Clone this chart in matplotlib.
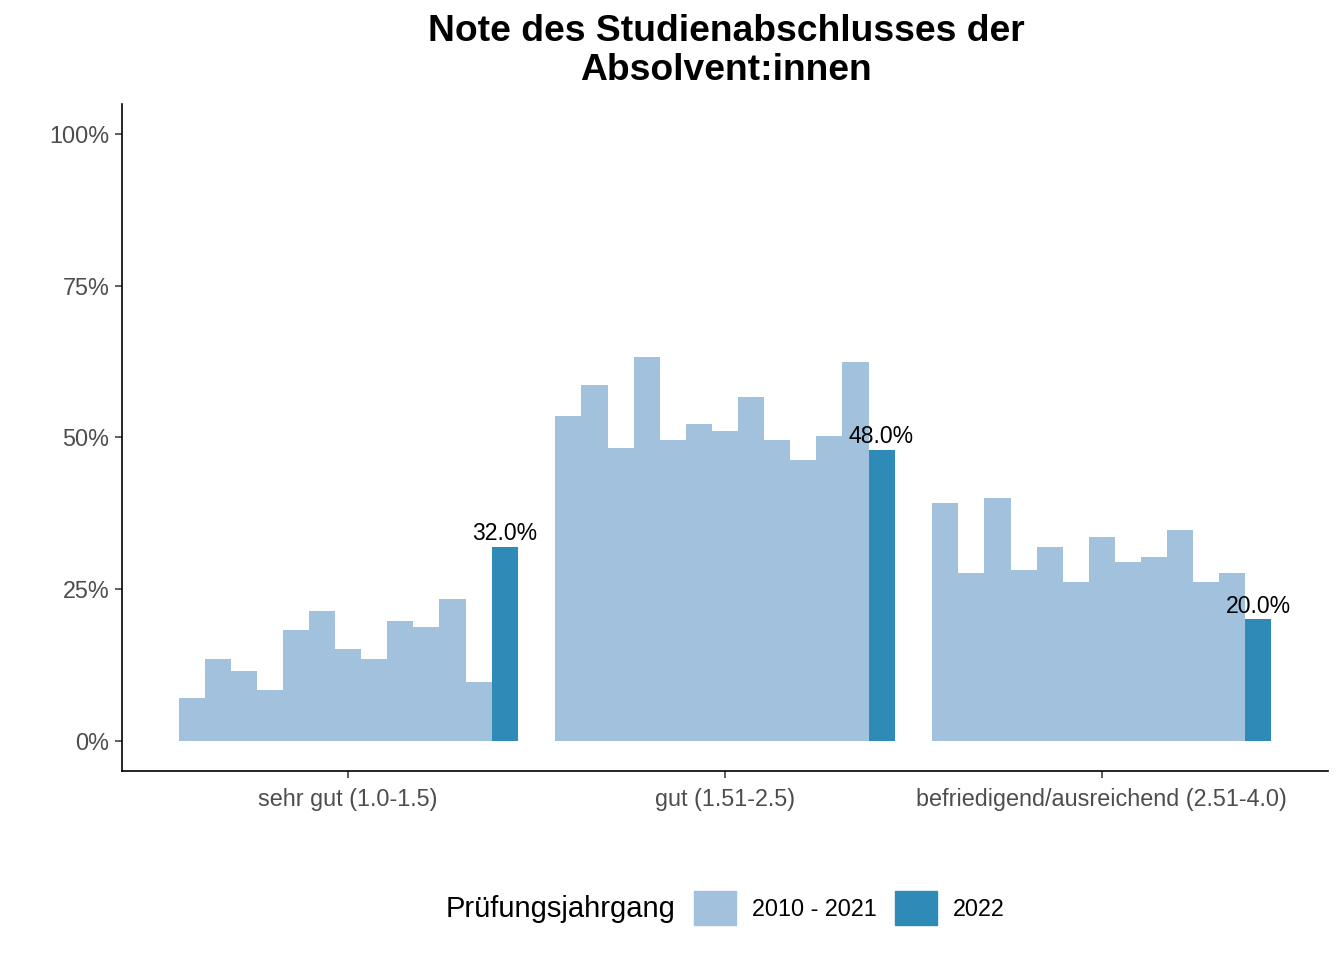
import numpy as np
import matplotlib.pyplot as plt
from matplotlib.patches import Patch

plt.rcParams['font.family'] = ['Liberation Sans', 'DejaVu Sans']

categories = ['sehr gut (1.0-1.5)', 'gut (1.51-2.5)', 'befriedigend/ausreichend (2.51-4.0)']
years = list(range(2010, 2023))

# Anteile je Jahrgang (2010..2021, 2022 zuletzt)
sehr_gut = [7.1, 13.5, 11.5, 8.4, 18.3, 21.4, 15.2, 13.5, 19.8, 18.8, 23.4, 9.7, 32.0]
gut = [53.5, 58.6, 48.3, 63.3, 49.6, 52.2, 51.1, 56.7, 49.6, 46.3, 50.2, 62.4, 48.0]
befriedigend = [39.2, 27.7, 40.0, 28.2, 32.0, 26.2, 33.6, 29.5, 30.3, 34.8, 26.2, 27.7, 20.0]
values = [sehr_gut, gut, befriedigend]

legend_labels = ['2010 - 2021', '2022']
col_old = '#A1C1DD'
col_new = '#2E8BB8'

fig = plt.figure(figsize=(13.44, 9.6), dpi=100)
ax = fig.add_axes([122/1344, 1-771/960, (1328-122)/1344, (771-104)/960])

n = len(years)
w = 0.9 / n
for i, vals in enumerate(values):
    x0 = i + 1 - 0.45 + w/2
    for j, v in enumerate(vals):
        c = col_new if years[j] == 2022 else col_old
        ax.bar(x0 + j*w, v, width=w, color=c, linewidth=0)
        if years[j] == 2022:
            ax.text(x0 + j*w, v + 0.25, '%.1f%%' % v, ha='center', va='bottom',
                    fontsize=16.6, color='black')

ax.set_xlim(0.4, 3.6)
ax.set_ylim(-5, 105)
ax.set_xticks([1, 2, 3])
ax.set_xticklabels(categories)
ax.set_yticks([0, 25, 50, 75, 100])
ax.set_yticklabels(['0%', '25%', '50%', '75%', '100%'])
ax.tick_params(axis='both', labelsize=16.8, labelcolor='#4D4D4D', color='#333333',
               length=5, width=1.1, pad=4)
ax.tick_params(axis='x', pad=7)
for s in ['top', 'right']:
    ax.spines[s].set_visible(False)
for s in ['left', 'bottom']:
    ax.spines[s].set_linewidth(1.2)

fig.text(726/1344, 1-51/960, 'Note des Studienabschlusses der\nAbsolvent:innen',
         ha='center', va='center', fontsize=26.8, fontweight='bold', linespacing=1.12)

fig.text(446/1344, 1-909/960, 'Prüfungsjahrgang', ha='left', va='center', fontsize=21)
handles = [Patch(color=col_old), Patch(color=col_new)]
fig.legend(handles, legend_labels, ncol=2, loc='center left',
           bbox_to_anchor=(694/1344, 1-908/960), frameon=False, fontsize=16.8,
           handlelength=1.8, handleheight=1.8, handletextpad=0.69,
           columnspacing=0.77, borderpad=0, borderaxespad=0)

plt.savefig('out.png', dpi=100)
